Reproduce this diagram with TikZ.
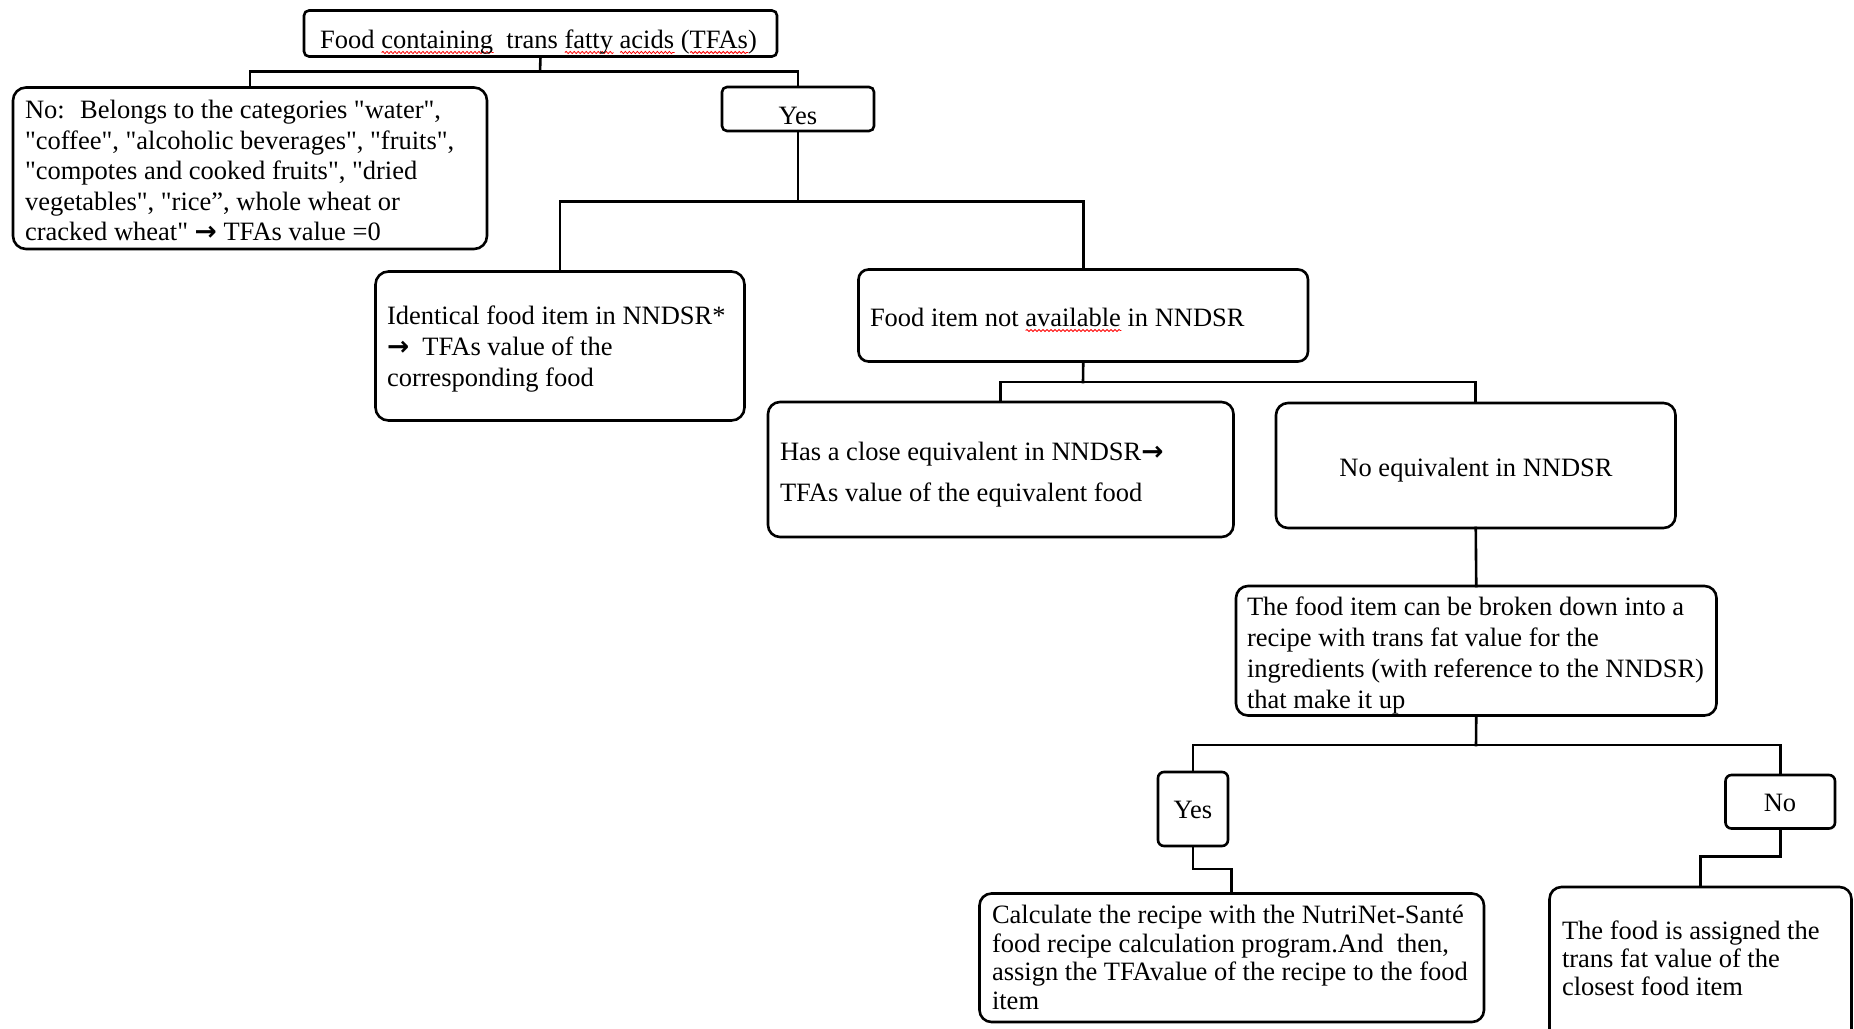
\documentclass[tikz,border=0pt]{standalone}
\usepackage{fontspec}
\setmainfont{Liberation Serif}[Ligatures=TeXOff]
\newfontfamily\arrowfont{DejaVu Sans}
\usetikzlibrary{decorations.pathmorphing}
\newsavebox\swbox
\newlength\swlen
\newcommand\sw[1]{\sbox\swbox{#1}\setlength\swlen{\wd\swbox}\rlap{\tikz[baseline=0pt,x=1pt,y=1pt]{\draw[red,line width=0.8pt,line cap=butt,decorate,decoration={snake,amplitude=1.1pt,segment length=4pt}] (0pt,-4pt) -- (\swlen,-4pt);}}\usebox\swbox}
\newcommand\rarr{{\arrowfont\bfseries →}}
\begin{document}
\begin{tikzpicture}[x=1pt,y=-1pt,
  box/.style={draw, line width=2.6pt, inner sep=0pt, outer sep=0pt},
  conn/.style={draw, line width=2.6pt, line cap=rect},
  txt/.style={inner sep=0pt, outer sep=0pt, align=left},
  ctxt/.style={inner sep=0pt, outer sep=0pt, anchor=base}]
\useasboundingbox (0,0) rectangle (1854,1028);
\clip (0,0) rectangle (1854,1028);
\fill[white] (0,0) rectangle (1854,1028);

% boxes
\node[box, rounded corners=5pt, minimum width=473pt, minimum height=46pt] (top) at (540.5,33.5) {};
\node[box, rounded corners=13pt, minimum width=474pt, minimum height=161.5pt] (no) at (250,168.25) {};
\node[box, rounded corners=5pt, minimum width=152pt, minimum height=44pt] (yes) at (798,109) {};
\node[box, rounded corners=13pt, minimum width=369pt, minimum height=149pt] (ident) at (560,346) {};
\node[box, rounded corners=10pt, minimum width=449.5pt, minimum height=92pt] (navail) at (1083.25,315.5) {};
\node[box, rounded corners=12pt, minimum width=465.5pt, minimum height=135pt] (close) at (1000.75,469.5) {};
\node[box, rounded corners=12pt, minimum width=399.5pt, minimum height=125pt] (noeq) at (1475.75,465.5) {};
\node[box, rounded corners=12pt, minimum width=480.5pt, minimum height=129.5pt] (recipe) at (1476.25,650.75) {};
\node[box, rounded corners=6pt, minimum width=70pt, minimum height=74pt] (yes2) at (1193,809) {};
\node[box, rounded corners=6pt, minimum width=109.5pt, minimum height=53.5pt] (no2) at (1780.25,801.75) {};
\node[box, rounded corners=12pt, minimum width=504.5pt, minimum height=128.5pt] (calc) at (1231.75,957.75) {};
\node[box, rounded corners=12pt, minimum width=302pt, minimum height=163pt] (assign) at (1700.5,968.5) {};

% junctions
\coordinate (j1) at (540,71.5);
\coordinate (j2) at (798,201.5);
\coordinate (j3) at (1083,382);
\coordinate (j4) at (1476,745);

% connectors
\draw[conn] (top.south) -- (j1);
\draw[conn] (no.north) |- (j1) -| (yes.north);
\draw[conn] (yes.south) -- (j2);
\draw[conn] (ident.north) |- (j2) -| (navail.north);
\draw[conn] (navail.south) -- (j3);
\draw[conn] (close.north) |- (j3) -| (noeq.north);
\draw[conn] (noeq.south) -- (recipe.north);
\draw[conn] (recipe.south) -- (j4);
\draw[conn] (yes2.north) |- (j4) -| (no2.north);
\draw[conn] (yes2.south) -- ++(0,23) -| (calc.north);
\draw[conn] (no2.south) -- ++(0,28) -| (assign.north);

% texts (multi-line nodes are anchored at the baseline of their last line)
\begin{scope}[font=\fontsize{26.5}{29.5}\selectfont]
\node[ctxt] (ttop) at (538.5,48.5) {Food \sw{containing}~ trans \sw{fatty} \sw{acids} (\sw{TFAs})};
\node[txt, anchor=base west, font=\fontsize{26.5}{30.5}\selectfont] (tno) at (25,240.5)
 {No:~ Belongs to the categories "water",\\
  "coffee", "alcoholic beverages", "fruits",\\
  "compotes and cooked fruits", "dried\\
  vegetables", "rice”, whole wheat or\\
  cracked wheat" \rarr{} TFAs value =0};
\node[ctxt] (tyes) at (798,124) {Yes};
\node[txt, anchor=base west, font=\fontsize{26.5}{31}\selectfont] (tident) at (387,386.5)
 {Identical food item in NNDSR*\\
  \rarr~ TFAs value of the\\
  corresponding food};
\node[ctxt, anchor=base west] (tnavail) at (870,326.5) {Food item not \sw{available} in NNDSR};
\node[txt, anchor=base west, font=\fontsize{26.5}{41}\selectfont] (tclose) at (780,501)
 {Has a close equivalent in NNDSR\rarr\\
  TFAs value of the equivalent food};
\node[ctxt] (tnoeq) at (1476,476) {No equivalent in NNDSR};
\node[txt, anchor=base west, font=\fontsize{26.5}{30.7}\selectfont] (trecipe) at (1247,708)
 {The food item can be broken down into a\\
  recipe with trans fat value for the\\
  ingredients (with reference to the NNDSR)\\
  that make it up};
\node[ctxt] (tyes2) at (1193,818) {Yes};
\node[ctxt] (tno2) at (1780,811) {No};
\node[txt, anchor=base west, font=\fontsize{26.5}{28.6}\selectfont] (tcalc) at (992,1009.5)
 {Calculate the recipe with the NutriNet-Santé\\
  food recipe calculation program.And~ then,\\
  assign the TFAvalue of the recipe to the food\\
  item};
\node[txt, anchor=base west, font=\fontsize{26.5}{28}\selectfont] (tassign) at (1562,995.5)
 {The food is assigned the\\
  trans fat value of the\\
  closest food item};
\end{scope}
\end{tikzpicture}
\end{document}
